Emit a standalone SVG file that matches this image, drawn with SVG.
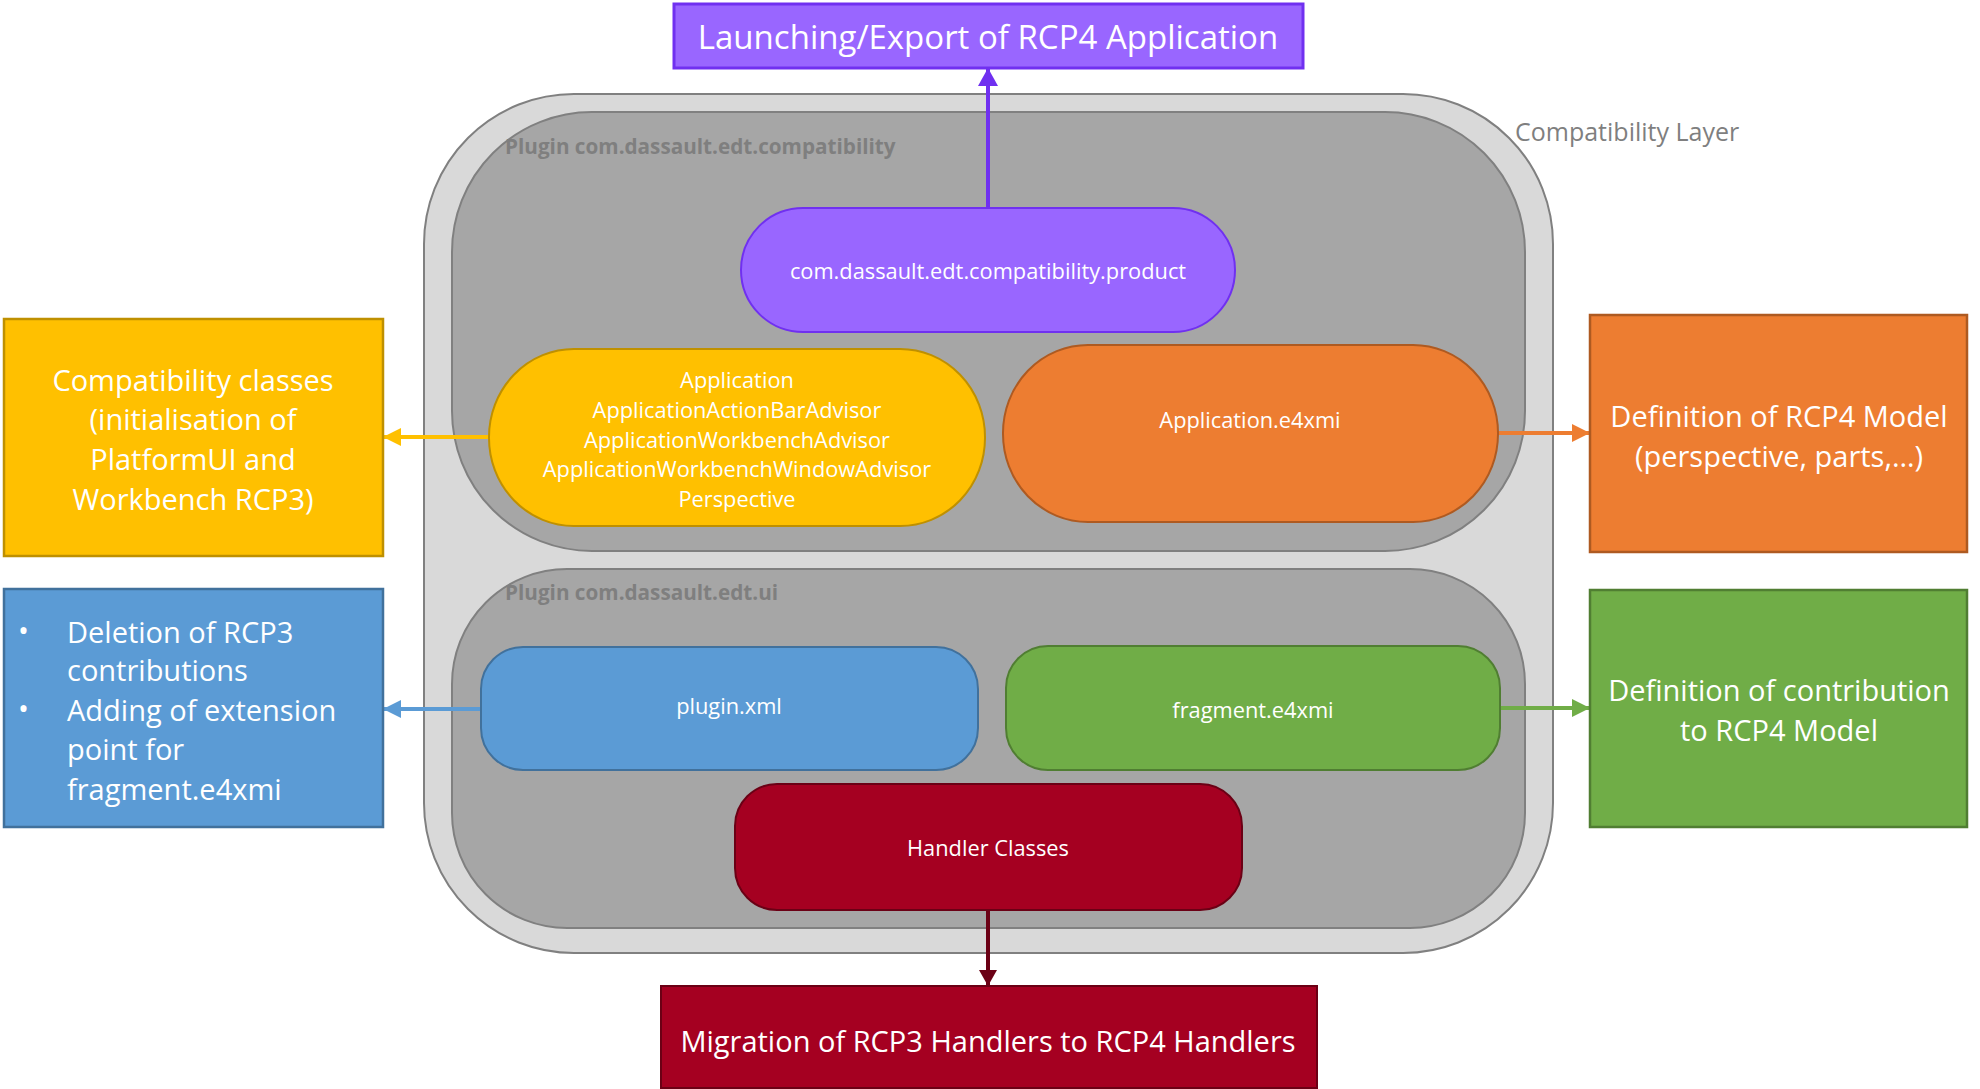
<svg xmlns="http://www.w3.org/2000/svg" width="1980" height="1089" viewBox="0 0 1980 1089">
<defs>
<style>
.t{font-family:"Open Sans","Liberation Sans",sans-serif;fill:#fff;text-anchor:middle;dominant-baseline:central}
.big{font-size:29px}
.sm{font-size:21.8px}
.lbl{font-family:"Open Sans","Liberation Sans",sans-serif;font-size:20.7px;font-weight:bold;fill:#7f7f7f;dominant-baseline:central}
.con{fill:none;stroke-width:4}
</style>
<marker id="aP" viewBox="0 0 18 20" refX="18" refY="10" markerWidth="18" markerHeight="20" markerUnits="userSpaceOnUse" orient="auto"><path d="M0,0L18,10L0,20z" fill="#7030f0"/></marker>
<marker id="aY" viewBox="0 0 18 18" refX="18" refY="9" markerWidth="18" markerHeight="18" markerUnits="userSpaceOnUse" orient="auto"><path d="M0,0L18,9L0,18z" fill="#ffc000"/></marker>
<marker id="aO" viewBox="0 0 18 18" refX="18" refY="9" markerWidth="18" markerHeight="18" markerUnits="userSpaceOnUse" orient="auto"><path d="M0,0L18,9L0,18z" fill="#ed7d31"/></marker>
<marker id="aB" viewBox="0 0 18 18" refX="18" refY="9" markerWidth="18" markerHeight="18" markerUnits="userSpaceOnUse" orient="auto"><path d="M0,0L18,9L0,18z" fill="#5b9bd5"/></marker>
<marker id="aG" viewBox="0 0 18 18" refX="18" refY="9" markerWidth="18" markerHeight="18" markerUnits="userSpaceOnUse" orient="auto"><path d="M0,0L18,9L0,18z" fill="#70ad47"/></marker>
<marker id="aR" viewBox="0 0 16 18" refX="16" refY="9" markerWidth="16" markerHeight="18" markerUnits="userSpaceOnUse" orient="auto"><path d="M0,0L16,9L0,18z" fill="#6b0015"/></marker>
</defs>
<rect width="1980" height="1089" fill="#fff"/>

<g id="compat-layer">
<rect x="424" y="94" width="1129" height="859" rx="150" ry="150" fill="#d9d9d9" stroke="#808080" stroke-width="2"/>
<text x="1515" y="131" font-family="Open Sans,Liberation Sans,sans-serif" font-size="25" fill="#7f7f7f" dominant-baseline="central">Compatibility Layer</text>
</g>

<g id="plugin-compat">
<rect x="452" y="112" width="1073" height="439" rx="140" ry="140" fill="#a6a6a6" stroke="#808080" stroke-width="2"/>
<text class="lbl" x="505" y="146">Plugin com.dassault.edt.compatibility</text>
</g>

<g id="plugin-ui">
<rect x="452" y="569" width="1073" height="359" rx="115" ry="115" fill="#a6a6a6" stroke="#808080" stroke-width="2"/>
<text class="lbl" x="505" y="592">Plugin com.dassault.edt.ui</text>
</g>

<g id="connectors">
<line class="con" x1="988" y1="208" x2="988" y2="68" stroke="#7030f0" marker-end="url(#aP)"/>
<line class="con" x1="489" y1="437" x2="383" y2="437" stroke="#ffc000" marker-end="url(#aY)"/>
<line class="con" x1="1498" y1="433" x2="1590" y2="433" stroke="#ed7d31" marker-end="url(#aO)"/>
<line class="con" x1="481" y1="709" x2="383" y2="709" stroke="#5b9bd5" marker-end="url(#aB)"/>
<line class="con" x1="1500" y1="708" x2="1590" y2="708" stroke="#70ad47" marker-end="url(#aG)"/>
<line class="con" x1="988" y1="910" x2="988" y2="986" stroke="#6b0015" marker-end="url(#aR)"/>
</g>

<g id="product">
<rect x="741" y="208" width="494" height="124" rx="62" ry="62" fill="#9966ff" stroke="#7030f0" stroke-width="2"/>
<text class="t sm" x="988" y="270">com.dassault.edt.compatibility.product</text>
</g>

<g id="app-classes">
<rect x="489" y="349" width="496" height="177" rx="85" ry="88" fill="#ffc000" stroke="#bf9000" stroke-width="2"/>
<text class="t sm" x="737" y="379">Application</text>
<text class="t sm" x="737" y="409">ApplicationActionBarAdvisor</text>
<text class="t sm" x="737" y="439">ApplicationWorkbenchAdvisor</text>
<text class="t sm" x="737" y="468">ApplicationWorkbenchWindowAdvisor</text>
<text class="t sm" x="737" y="498">Perspective</text>
</g>

<g id="app-e4xmi">
<rect x="1003" y="345" width="495" height="177" rx="85" ry="88" fill="#ed7d31" stroke="#ae5a21" stroke-width="2"/>
<text class="t sm" x="1250" y="419">Application.e4xmi</text>
</g>

<g id="plugin-xml">
<rect x="481" y="647" width="497" height="123" rx="42" ry="42" fill="#5b9bd5" stroke="#41719c" stroke-width="2"/>
<text class="t sm" x="729" y="705">plugin.xml</text>
</g>

<g id="fragment">
<rect x="1006" y="646" width="494" height="124" rx="42" ry="42" fill="#70ad47" stroke="#507e32" stroke-width="2"/>
<text class="t sm" x="1253" y="709">fragment.e4xmi</text>
</g>

<g id="handlers">
<rect x="735" y="784" width="507" height="126" rx="42" ry="42" fill="#a50021" stroke="#6b0015" stroke-width="2"/>
<text class="t sm" x="988" y="847">Handler Classes</text>
</g>

<g id="launch">
<rect x="674" y="4" width="629" height="64" fill="#9966ff" stroke="#7030f0" stroke-width="3"/>
<text class="t" x="988" y="36" font-size="33">Launching/Export of RCP4 Application</text>
</g>

<g id="compat-classes">
<rect x="4" y="319" width="379" height="237" fill="#ffc000" stroke="#bf9000" stroke-width="2.5"/>
<text class="t big" x="193" y="379">Compatibility classes</text>
<text class="t big" x="193" y="418">(initialisation of</text>
<text class="t big" x="193" y="458">PlatformUI and</text>
<text class="t big" x="193" y="498">Workbench RCP3)</text>
</g>

<g id="rcp3-contrib">
<rect x="4" y="589" width="379" height="238" fill="#5b9bd5" stroke="#41719c" stroke-width="2.5"/>
<g class="t big" style="text-anchor:start">
<text x="18" y="629">•</text>
<text x="67" y="631">Deletion of RCP3</text>
<text x="67" y="669">contributions</text>
<text x="18" y="707">•</text>
<text x="67" y="709">Adding of extension</text>
<text x="67" y="748">point for</text>
<text x="67" y="788">fragment.e4xmi</text>
</g>
</g>

<g id="rcp4-model">
<rect x="1590" y="315" width="377" height="237" fill="#ed7d31" stroke="#ae5a21" stroke-width="2.5"/>
<text class="t big" x="1779" y="415">Definition of RCP4 Model</text>
<text class="t big" x="1779" y="455">(perspective, parts,…)</text>
</g>

<g id="rcp4-contrib">
<rect x="1590" y="590" width="377" height="237" fill="#70ad47" stroke="#507e32" stroke-width="2.5"/>
<text class="t big" x="1779" y="689">Definition of contribution</text>
<text class="t big" x="1779" y="729">to RCP4 Model</text>
</g>

<g id="migration">
<rect x="661" y="986" width="656" height="102" fill="#a50021" stroke="#6b0015" stroke-width="2"/>
<text class="t" x="988" y="1040" font-size="29">Migration of RCP3 Handlers to RCP4 Handlers</text>
</g>
</svg>
